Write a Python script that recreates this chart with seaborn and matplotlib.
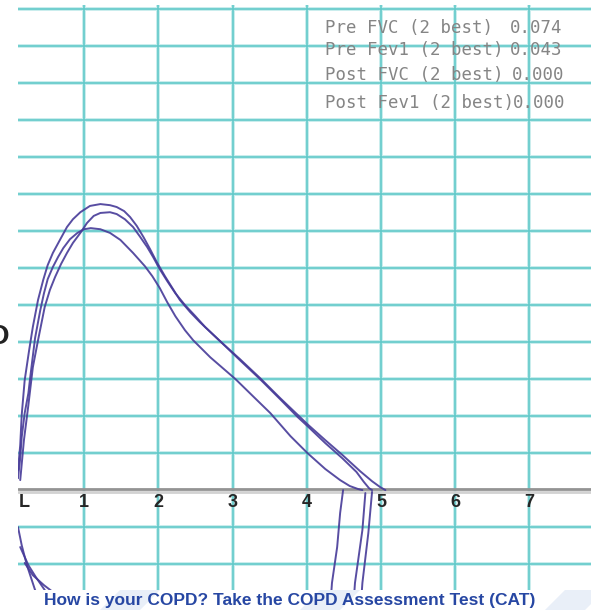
import pandas as pd
import matplotlib
matplotlib.use('Agg')
import matplotlib.pyplot as plt
import seaborn as sns
from matplotlib.patches import Polygon

# expiratory traces (volume L, flow L/s)
vol_a = [0.11, 0.14, 0.16, 0.20, 0.26, 0.31, 0.38, 0.45, 0.51, 0.58, 0.68, 0.77, 0.85, 0.95, 1.08, 1.22,
         1.35, 1.44, 1.54, 1.62, 1.71, 1.80, 1.89, 1.98, 2.09, 2.19, 2.29, 2.43, 2.56, 2.83, 3.10, 3.37,
         3.64, 3.88, 4.01, 4.25, 4.48, 4.72, 4.88, 4.99, 5.06]
flow_a = [0.54, 1.22, 2.03, 2.97, 3.78, 4.41, 5.14, 5.68, 6.08, 6.41, 6.78, 7.11, 7.32, 7.51, 7.68, 7.73,
          7.70, 7.65, 7.54, 7.38, 7.14, 6.84, 6.51, 6.16, 5.78, 5.46, 5.14, 4.81, 4.54, 4.03, 3.54, 3.03,
          2.49, 2.03, 1.78, 1.35, 0.95, 0.51, 0.24, 0.08, 0.00]

vol_b = [0.14, 0.19, 0.25, 0.31, 0.38, 0.47, 0.54, 0.61, 0.69, 0.77, 0.85, 0.95, 1.04, 1.13, 1.22, 1.35,
         1.44, 1.55, 1.66, 1.75, 1.85, 1.93, 2.02, 2.12, 2.23, 2.36, 2.50, 2.63, 2.83, 3.10, 3.37, 3.64,
         3.88, 4.01, 4.25, 4.48, 4.67, 4.77, 4.84, 4.88]
flow_b = [0.27, 1.35, 2.30, 3.32, 4.05, 4.95, 5.41, 5.76, 6.11, 6.41, 6.68, 6.95, 7.22, 7.41, 7.49, 7.51,
          7.46, 7.32, 7.11, 6.86, 6.57, 6.30, 5.97, 5.65, 5.32, 5.00, 4.70, 4.41, 4.03, 3.51, 3.00, 2.46,
          1.97, 1.73, 1.27, 0.86, 0.49, 0.22, 0.05, 0.00]

vol_c = [0.11, 0.14, 0.16, 0.20, 0.25, 0.27, 0.30, 0.34, 0.41, 0.46, 0.51, 0.58, 0.65, 0.72, 0.81, 0.91,
         1.00, 1.09, 1.22, 1.35, 1.49, 1.66, 1.82, 1.92, 2.02, 2.12, 2.23, 2.36, 2.47, 2.70, 3.04, 3.30,
         3.51, 3.78, 4.01, 4.25, 4.45, 4.58, 4.69, 4.75]
flow_c = [0.32, 0.86, 1.43, 2.08, 2.62, 2.97, 3.46, 4.11, 4.86, 5.32, 5.70, 6.03, 6.30, 6.54, 6.78, 6.95,
          7.05, 7.08, 7.05, 6.95, 6.76, 6.41, 6.05, 5.78, 5.46, 5.08, 4.70, 4.32, 4.05, 3.59, 3.00, 2.49,
          2.08, 1.46, 1.00, 0.57, 0.27, 0.11, 0.03, 0.00]

# inspiratory pieces that show below the axis
insp_vol = [[4.49, 4.45, 4.41, 4.34, 4.33],
            [4.79, 4.75, 4.65, 4.64],
            [4.88, 4.83, 4.75, 4.74],
            [0.11, 0.16, 0.23, 0.34, 0.40],
            [0.14, 0.25, 0.35, 0.47, 0.52],
            [0.20, 0.31, 0.46, 0.61]]
insp_flow = [[0.00, -0.62, -1.54, -2.51, -2.80],
             [-0.08, -1.08, -2.51, -2.80],
             [-0.05, -1.16, -2.51, -2.80],
             [-1.00, -1.49, -2.03, -2.70, -2.90],
             [-1.54, -2.03, -2.35, -2.70, -2.85],
             [-1.97, -2.30, -2.57, -2.80]]

stat_labels = ['Pre FVC (2 best)', 'Pre Fev1 (2 best)', 'Post FVC (2 best)', 'Post Fev1 (2 best)']
stat_values = ['0.074', '0.043', '0.000', '0.000']
x_ticks = [1, 2, 3, 4, 5, 6, 7]
banner = 'How is your COPD? Take the COPD Assessment Test (CAT)'

rows = []
for name, vs, fs in [('a', vol_a, flow_a), ('b', vol_b, flow_b), ('c', vol_c, flow_c)]:
    for i, (v, f) in enumerate(zip(vs, fs)):
        rows.append({'trace': name, 'order': i, 'vol': v, 'flow': f})
for k, (vs, fs) in enumerate(zip(insp_vol, insp_flow)):
    for i, (v, f) in enumerate(zip(vs, fs)):
        rows.append({'trace': 'i%d' % k, 'order': i, 'vol': v, 'flow': f})
df = pd.DataFrame(rows)

sns.set_style('white')
plt.rcParams['font.family'] = ['Liberation Sans', 'DejaVu Sans']

W, H = 591, 610
fig = plt.figure(figsize=(W / 100, H / 100), dpi=100)
fig.patch.set_facecolor('white')
ax = fig.add_axes([18 / W, 20 / H, 573 / W, 585 / H])
ax.set_xlim(0.11, 7.83)
ax.set_ylim(-2.70, 13.11)
ax.set_facecolor('white')
for s in ax.spines.values():
    s.set_visible(False)
ax.set_xticks([])
ax.set_yticks([])

# teal grid
for v in x_ticks:
    ax.axvline(v, color='#c8eded', lw=2.8, zorder=0)
    ax.axvline(v, color='#62caca', lw=1.2, zorder=0.5)
for f in range(-2, 14):
    if f == 0:
        continue
    ax.axhline(f, color='#c8eded', lw=2.8, zorder=0)
    ax.axhline(f, color='#62caca', lw=1.2, zorder=0.5)

# grey volume axis
ax.axhline(-0.05, color='#d2d2d2', lw=2.0, zorder=1)
ax.axhline(0.02, color='#939393', lw=2.0, zorder=1)

sns.lineplot(data=df, x='vol', y='flow', units='trace', estimator=None, sort=False,
             color='#463a98', lw=1.4, alpha=0.9, ax=ax, zorder=3)
ax.set_xlabel('')
ax.set_ylabel('')

for v in x_ticks:
    ax.text(v, -0.1, str(v), ha='center', va='top', fontsize=13, fontweight='bold', color='#262626')
ax.text(0.2, -0.1, 'L', ha='center', va='top', fontsize=13, fontweight='bold', color='#262626')

# summary figures in the top right
row_y = [28, 50, 75, 103]
val_x = [510, 510, 512, 513]
for lab, val, yy, vx in zip(stat_labels, stat_values, row_y, val_x):
    fig.text(325 / W, 1 - yy / H, lab, ha='left', va='center', fontsize=12.5,
             family='DejaVu Sans Mono', color='#858585')
    fig.text(vx / W, 1 - yy / H, val, ha='left', va='center', fontsize=12.5,
             family='DejaVu Sans Mono', color='#858585')

# clipped letter at the left edge
fig.text(9 / W, 1 - 337 / H, 'O', ha='right', va='center', fontsize=20, fontweight='bold', color='#222222')

# bottom banner
for x0 in [100, 300, 545]:
    fig.patches.append(Polygon([[x0 / W, 0], [(x0 + 40) / W, 0], [(x0 + 60) / W, 20 / H], [(x0 + 20) / W, 20 / H]],
                               closed=True, transform=fig.transFigure, facecolor='#e9eff8', edgecolor='none'))
fig.text(290 / W, 10 / H, banner, ha='center', va='center', fontsize=12.5, fontweight='bold', color='#2747a3')

fig.savefig('out.png', dpi=100)
